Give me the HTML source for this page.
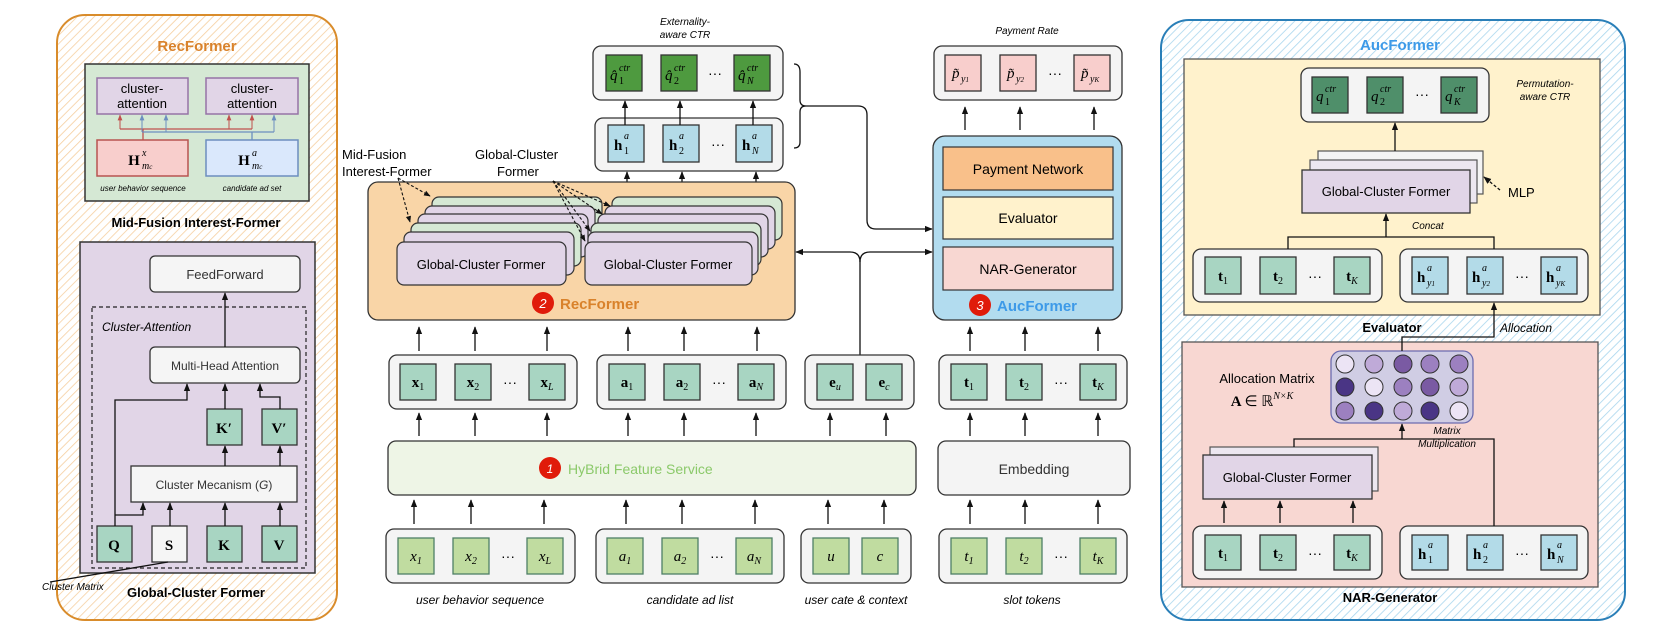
<!DOCTYPE html>
<html><head><meta charset="utf-8"><style>
html,body{margin:0;padding:0;background:#fff}
svg{display:block}
text{font-family:"Liberation Sans",sans-serif}
.m{font-family:"Liberation Serif",serif;font-weight:bold;font-size:15px}
.mi{font-family:"Liberation Serif",serif;font-style:italic;font-size:15px}
.sp{font-family:"Liberation Serif",serif;font-style:italic;font-size:10px}
.sn{font-family:"Liberation Serif",serif;font-size:10px}
.it{font-style:italic}
</style></head><body>
<svg width="1660" height="630" viewBox="0 0 1660 630" xmlns="http://www.w3.org/2000/svg">
<defs>
<marker id="a" viewBox="0 0 10 10" refX="9" refY="5" markerWidth="6" markerHeight="6" orient="auto-start-reverse"><path d="M0,1 L10,5 L0,9 z" fill="#111"/></marker>
<marker id="ar" viewBox="0 0 10 10" refX="9" refY="5" markerWidth="6" markerHeight="6" orient="auto"><path d="M0,1 L10,5 L0,9 z" fill="#c0504d"/></marker>
<marker id="ab" viewBox="0 0 10 10" refX="9" refY="5" markerWidth="6" markerHeight="6" orient="auto"><path d="M0,1 L10,5 L0,9 z" fill="#6c8ebf"/></marker>
<pattern id="ho" width="6" height="6" patternUnits="userSpaceOnUse" patternTransform="rotate(45)"><rect width="6" height="6" fill="#fff"/><line x1="0" y1="0" x2="0" y2="6" stroke="#f6cf9f" stroke-width="1.6"/></pattern>
<pattern id="hb" width="6" height="6" patternUnits="userSpaceOnUse" patternTransform="rotate(45)"><rect width="6" height="6" fill="#fff"/><line x1="0" y1="0" x2="0" y2="6" stroke="#a9d6ee" stroke-width="1.6"/></pattern>
</defs>

<!-- ============ LEFT PANEL ============ -->
<rect x="57" y="15" width="280" height="605" rx="28" fill="url(#ho)" stroke="#d98c2b" stroke-width="2"/>
<text x="197" y="51" text-anchor="middle" font-size="15" font-weight="bold" fill="#d9822b">RecFormer</text>
<rect x="85" y="64" width="224" height="137" fill="#d5e8d4" stroke="#333" stroke-width="1.5"/>
<rect x="97" y="78" width="91" height="36" fill="#e1d5e7" stroke="#9673a6" stroke-width="1.5"/>
<text x="142" y="93" text-anchor="middle" font-size="13">cluster-</text><text x="142" y="108" text-anchor="middle" font-size="13">attention</text>
<rect x="206" y="78" width="92" height="36" fill="#e1d5e7" stroke="#9673a6" stroke-width="1.5"/>
<text x="252" y="93" text-anchor="middle" font-size="13">cluster-</text><text x="252" y="108" text-anchor="middle" font-size="13">attention</text>
<rect x="97" y="140" width="91" height="36" fill="#f8cecc" stroke="#b85450" stroke-width="1.5"/>
<text x="134" y="165" text-anchor="middle" class="m" font-size="18">H</text><text x="142" y="156" class="sp">x</text><text x="142" y="169" class="sp">m<tspan font-size="7">c</tspan></text>
<rect x="206" y="140" width="92" height="36" fill="#dae8fc" stroke="#6c8ebf" stroke-width="1.5"/>
<text x="244" y="165" text-anchor="middle" class="m" font-size="18">H</text><text x="252" y="156" class="sp">a</text><text x="252" y="169" class="sp">m<tspan font-size="7">c</tspan></text>
<path d="M143,140 V129 H252 M120,129 H143" fill="none" stroke="#c0504d" stroke-width="1.3"/>
<path d="M120,129 V115" stroke="#c0504d" marker-end="url(#ar)"/><path d="M229,129 V115" stroke="#c0504d" marker-end="url(#ar)"/><path d="M252,129 V115" stroke="#c0504d" marker-end="url(#ar)"/>
<path d="M252,140 V132 H142 M274,132 H252" fill="none" stroke="#6c8ebf" stroke-width="1.3"/>
<path d="M142,132 V115" stroke="#6c8ebf" marker-end="url(#ab)"/><path d="M166,132 V115" stroke="#6c8ebf" marker-end="url(#ab)"/><path d="M274,132 V115" stroke="#6c8ebf" marker-end="url(#ab)"/>
<text x="143" y="191" text-anchor="middle" font-size="8" class="it">user behavior sequence</text>
<text x="252" y="191" text-anchor="middle" font-size="8" class="it">candidate ad set</text>
<text x="196" y="227" text-anchor="middle" font-size="13" font-weight="bold">Mid-Fusion Interest-Former</text>

<rect x="80" y="242" width="235" height="331" fill="#e1d5e7" stroke="#333" stroke-width="1.5"/>
<rect x="150" y="256" width="150" height="36" rx="5" fill="#f5f5f5" stroke="#333" stroke-width="1.3"/>
<text x="225" y="279" text-anchor="middle" font-size="13" fill="#333">FeedForward</text>
<rect x="92" y="307" width="214" height="261" fill="none" stroke="#222" stroke-width="1.2" stroke-dasharray="4,3"/>
<text x="102" y="331" font-size="12" class="it">Cluster-Attention</text>
<rect x="150" y="347" width="150" height="36" rx="5" fill="#f5f5f5" stroke="#333" stroke-width="1.3"/>
<text x="225" y="370" text-anchor="middle" font-size="12" fill="#333">Multi-Head Attention</text>
<rect x="207" y="409" width="35" height="36" fill="#a8d5c2" stroke="#333" stroke-width="1.3"/><text x="224" y="433" text-anchor="middle" class="m">K′</text>
<rect x="262" y="409" width="35" height="36" fill="#a8d5c2" stroke="#333" stroke-width="1.3"/><text x="279" y="433" text-anchor="middle" class="m">V′</text>
<rect x="131" y="466" width="166" height="36" fill="#f5f5f5" stroke="#333" stroke-width="1.3"/>
<text x="214" y="489" text-anchor="middle" font-size="12" fill="#333">Cluster Mecanism (<tspan class="it">G</tspan>)</text>
<rect x="97" y="526" width="35" height="36" fill="#a8d5c2" stroke="#333" stroke-width="1.3"/><text x="114" y="550" text-anchor="middle" class="m">Q</text>
<rect x="152" y="526" width="35" height="36" fill="#f5f5f5" stroke="#333" stroke-width="1.3"/><text x="169" y="550" text-anchor="middle" class="m">S</text>
<rect x="207" y="526" width="35" height="36" fill="#a8d5c2" stroke="#333" stroke-width="1.3"/><text x="224" y="550" text-anchor="middle" class="m">K</text>
<rect x="262" y="526" width="35" height="36" fill="#a8d5c2" stroke="#333" stroke-width="1.3"/><text x="279" y="550" text-anchor="middle" class="m">V</text>
<g stroke="#111" stroke-width="1.3" fill="none">
<path d="M115,526 V400 H187 V384" marker-end="url(#a)"/>
<path d="M115,515 H143 V503" marker-end="url(#a)"/>
<path d="M170,526 V503" marker-end="url(#a)"/>
<path d="M225,526 V503" marker-end="url(#a)"/>
<path d="M280,526 V503" marker-end="url(#a)"/>
<path d="M225,466 V446" marker-end="url(#a)"/>
<path d="M280,466 V446" marker-end="url(#a)"/>
<path d="M225,409 V384" marker-end="url(#a)"/>
<path d="M280,409 V397 H260 V384" marker-end="url(#a)"/>
<path d="M225,347 V293" marker-end="url(#a)"/>
<path d="M168,562 L50,582"/>
</g>
<text x="42" y="590" font-size="10" class="it">Cluster Matrix</text>
<text x="196" y="597" text-anchor="middle" font-size="13" font-weight="bold">Global-Cluster Former</text>

<!-- ============ CENTER ============ -->
<text x="685" y="25" text-anchor="middle" font-size="10" class="it">Externality-</text>
<text x="685" y="38" text-anchor="middle" font-size="10" class="it">aware CTR</text>
<rect x="593" y="46" width="190" height="54" rx="8" fill="#f4f4f4" stroke="#333" stroke-width="1.3"/>
<g stroke="#333" stroke-width="1.3" fill="#4e9a3f">
<rect x="606" y="55" width="36" height="36"/><rect x="661" y="55" width="36" height="36"/><rect x="734" y="55" width="36" height="36"/></g>
<g>
<text x="610" y="80" class="mi">q̂</text><text x="619" y="71" class="sp">ctr</text><text x="619" y="84" class="sn">1</text>
<text x="665" y="80" class="mi">q̂</text><text x="674" y="71" class="sp">ctr</text><text x="674" y="84" class="sn">2</text>
<text x="738" y="80" class="mi">q̂</text><text x="747" y="71" class="sp">ctr</text><text x="747" y="84" class="sp">N</text>
</g>
<text x="715" y="78" text-anchor="middle" font-size="14">···</text>
<rect x="595" y="118" width="188" height="53" rx="8" fill="#f4f4f4" stroke="#333" stroke-width="1.3"/>
<g stroke="#333" stroke-width="1.3" fill="#b3dbe8">
<rect x="608" y="125" width="36" height="37"/><rect x="663" y="125" width="36" height="37"/><rect x="736" y="125" width="36" height="37"/></g>
<text x="614" y="150" class="m" font-size="17">h</text><text x="624" y="139" class="sp">a</text><text x="624" y="154" class="sn">1</text>
<text x="669" y="150" class="m" font-size="17">h</text><text x="679" y="139" class="sp">a</text><text x="679" y="154" class="sn">2</text>
<text x="742" y="150" class="m" font-size="17">h</text><text x="752" y="139" class="sp">a</text><text x="752" y="154" class="sp">N</text>
<text x="718" y="149" text-anchor="middle" font-size="14">···</text>
<g stroke="#111" stroke-width="1.3" fill="none">
<path d="M625,125 V101" marker-end="url(#a)"/><path d="M680,125 V101" marker-end="url(#a)"/><path d="M753,125 V101" marker-end="url(#a)"/>
<path d="M627,182 V172" marker-end="url(#a)"/><path d="M682,182 V172" marker-end="url(#a)"/><path d="M756,182 V172" marker-end="url(#a)"/>
<path d="M794,64 Q800,64 800,72 V100 Q800,106 806,106 Q800,106 800,112 V142 Q800,148 794,148"/>
<path d="M806,106 H858 Q867,106 867,115 V220 Q867,229 876,229 H932" marker-end="url(#a)"/>
</g>

<!-- orange RecFormer -->
<rect x="368" y="182" width="427" height="138" rx="10" fill="#f9d5a7" stroke="#333" stroke-width="1.3"/>
<text x="342" y="159" font-size="13">Mid-Fusion</text>
<text x="342" y="176" font-size="13">Interest-Former</text>
<text x="475" y="159" font-size="13">Global-Cluster</text>
<text x="497" y="176" font-size="13">Former</text>
<g stroke="#333" stroke-width="1.2">
<rect x="432" y="197" width="170" height="43" rx="7" fill="#d5e8d4"/>
<rect x="425" y="206" width="170" height="43" rx="7" fill="#e1d5e7"/>
<rect x="418" y="214" width="170" height="43" rx="7" fill="#e1d5e7"/>
<rect x="411" y="223" width="170" height="43" rx="7" fill="#d5e8d4"/>
<rect x="404" y="232" width="170" height="43" rx="7" fill="#e1d5e7"/>
<rect x="397" y="242" width="169" height="43" rx="7" fill="#e1d5e7"/>
<rect x="612" y="197" width="170" height="43" rx="7" fill="#d5e8d4"/>
<rect x="605" y="206" width="170" height="43" rx="7" fill="#e1d5e7"/>
<rect x="598" y="214" width="170" height="43" rx="7" fill="#e1d5e7"/>
<rect x="591" y="223" width="170" height="43" rx="7" fill="#d5e8d4"/>
<rect x="588" y="232" width="170" height="43" rx="7" fill="#e1d5e7"/>
<rect x="585" y="242" width="167" height="43" rx="7" fill="#e1d5e7"/>
</g>
<text x="481" y="269" text-anchor="middle" font-size="13">Global-Cluster Former</text>
<text x="668" y="269" text-anchor="middle" font-size="13">Global-Cluster Former</text>
<g stroke="#111" stroke-width="1.1" fill="none" stroke-dasharray="3,2">
<path d="M398,178 L430,196" marker-end="url(#a)"/><path d="M398,178 L410,222" marker-end="url(#a)"/>
<path d="M553,181 L610,206" marker-end="url(#a)"/><path d="M553,181 L602,214" marker-end="url(#a)"/>
<path d="M553,181 L590,231" marker-end="url(#a)"/><path d="M553,181 L585,241" marker-end="url(#a)"/>
</g>
<circle cx="543" cy="303" r="11" fill="#e01b0a"/><text x="543" y="308" text-anchor="middle" font-size="13" fill="#fff" class="it">2</text>
<text x="560" y="309" font-size="15" font-weight="bold" fill="#d9822b">RecFormer</text>

<!-- AucFormer middle -->
<text x="1027" y="34" text-anchor="middle" font-size="10" class="it">Payment Rate</text>
<rect x="934" y="46" width="188" height="54" rx="8" fill="#f4f4f4" stroke="#333" stroke-width="1.3"/>
<g stroke="#333" stroke-width="1.3" fill="#f8cecc">
<rect x="945" y="55" width="36" height="36"/><rect x="1000" y="55" width="36" height="36"/><rect x="1074" y="55" width="36" height="36"/></g>
<text x="952" y="78" class="mi">p̃</text><text x="961" y="82" class="sp">y<tspan font-size="7">1</tspan></text>
<text x="1007" y="78" class="mi">p̃</text><text x="1016" y="82" class="sp">y<tspan font-size="7">2</tspan></text>
<text x="1081" y="78" class="mi">p̃</text><text x="1090" y="82" class="sp">y<tspan font-size="7">K</tspan></text>
<text x="1055" y="78" text-anchor="middle" font-size="14">···</text>
<rect x="933" y="136" width="189" height="184" rx="12" fill="#b2dcef" stroke="#333" stroke-width="1.3"/>
<rect x="943" y="147" width="170" height="43" fill="#f9c08a" stroke="#333" stroke-width="1.2"/>
<text x="1028" y="174" text-anchor="middle" font-size="14">Payment Network</text>
<rect x="943" y="197" width="170" height="42" fill="#fff2cc" stroke="#333" stroke-width="1.2"/>
<text x="1028" y="223" text-anchor="middle" font-size="14">Evaluator</text>
<rect x="943" y="247" width="170" height="43" fill="#f8d7d2" stroke="#333" stroke-width="1.2"/>
<text x="1028" y="274" text-anchor="middle" font-size="14">NAR-Generator</text>
<circle cx="980" cy="305" r="11" fill="#e01b0a"/><text x="980" y="310" text-anchor="middle" font-size="13" fill="#fff" class="it">3</text>
<text x="997" y="311" font-size="15" font-weight="bold" fill="#3d9ae8">AucFormer</text>
<g stroke="#111" stroke-width="1.3" fill="none">
<path d="M965,130 V107" marker-end="url(#a)"/><path d="M1020,130 V107" marker-end="url(#a)"/><path d="M1094,130 V107" marker-end="url(#a)"/>
<path d="M860,355 V262 Q860,252 850,252 H796" marker-end="url(#a)"/>
<path d="M860,262 Q860,252 870,252 H932" marker-end="url(#a)"/>
</g>

<!-- feature rows -->
<g stroke="#333" stroke-width="1.3">
<rect x="389" y="355" width="188" height="54" rx="8" fill="#f4f4f4"/>
<rect x="597" y="355" width="189" height="54" rx="8" fill="#f4f4f4"/>
<rect x="805" y="355" width="109" height="54" rx="8" fill="#f4f4f4"/>
<rect x="939" y="355" width="188" height="54" rx="8" fill="#f4f4f4"/>
<rect x="388" y="441" width="528" height="54" rx="8" fill="#eef5e6"/>
<rect x="938" y="441" width="192" height="54" rx="8" fill="#f4f4f4"/>
<rect x="386" y="529" width="189" height="54" rx="8" fill="#f4f4f4"/>
<rect x="596" y="529" width="188" height="54" rx="8" fill="#f4f4f4"/>
<rect x="801" y="529" width="110" height="54" rx="8" fill="#f4f4f4"/>
<rect x="939" y="529" width="188" height="54" rx="8" fill="#f4f4f4"/>
</g>
<g stroke="#333" stroke-width="1.3" fill="#a8d5c2">
<rect x="400" y="364" width="36" height="36"/><rect x="455" y="364" width="36" height="36"/><rect x="529" y="364" width="36" height="36"/>
<rect x="609" y="364" width="36" height="36"/><rect x="664" y="364" width="36" height="36"/><rect x="738" y="364" width="36" height="36"/>
<rect x="817" y="364" width="36" height="36"/><rect x="866" y="364" width="36" height="36"/>
<rect x="951" y="364" width="36" height="36"/><rect x="1006" y="364" width="36" height="36"/><rect x="1080" y="364" width="36" height="36"/>
</g>
<g stroke="#4f7f66" stroke-width="1.3" fill="#c0dca0">
<rect x="398" y="538" width="36" height="36"/><rect x="453" y="538" width="36" height="36"/><rect x="527" y="538" width="36" height="36"/>
<rect x="607" y="538" width="36" height="36"/><rect x="662" y="538" width="36" height="36"/><rect x="736" y="538" width="36" height="36"/>
<rect x="813" y="538" width="36" height="36"/><rect x="862" y="538" width="36" height="36"/>
<rect x="951" y="538" width="36" height="36"/><rect x="1006" y="538" width="36" height="36"/><rect x="1080" y="538" width="36" height="36"/>
</g>
<g text-anchor="middle">
<text x="418" y="387" class="m">x<tspan font-size="10" font-weight="normal" dy="3">1</tspan></text>
<text x="473" y="387" class="m">x<tspan font-size="10" font-weight="normal" dy="3">2</tspan></text>
<text x="547" y="387" class="m">x<tspan font-size="10" font-weight="normal" font-style="italic" dy="3">L</tspan></text>
<text x="627" y="387" class="m">a<tspan font-size="10" font-weight="normal" dy="3">1</tspan></text>
<text x="682" y="387" class="m">a<tspan font-size="10" font-weight="normal" dy="3">2</tspan></text>
<text x="756" y="387" class="m">a<tspan font-size="10" font-weight="normal" font-style="italic" dy="3">N</tspan></text>
<text x="835" y="387" class="m">e<tspan font-size="10" font-weight="normal" font-style="italic" dy="3">u</tspan></text>
<text x="884" y="387" class="m">e<tspan font-size="10" font-weight="normal" font-style="italic" dy="3">c</tspan></text>
<text x="969" y="387" class="m">t<tspan font-size="10" font-weight="normal" dy="3">1</tspan></text>
<text x="1024" y="387" class="m">t<tspan font-size="10" font-weight="normal" dy="3">2</tspan></text>
<text x="1098" y="387" class="m">t<tspan font-size="10" font-weight="normal" font-style="italic" dy="3">K</tspan></text>
<text x="510" y="387" font-size="14">···</text><text x="719" y="387" font-size="14">···</text><text x="1061" y="387" font-size="14">···</text>
<text x="416" y="561" class="mi">x<tspan font-size="10" dy="3">1</tspan></text>
<text x="471" y="561" class="mi">x<tspan font-size="10" dy="3">2</tspan></text>
<text x="545" y="561" class="mi">x<tspan font-size="10" dy="3">L</tspan></text>
<text x="625" y="561" class="mi">a<tspan font-size="10" dy="3">1</tspan></text>
<text x="680" y="561" class="mi">a<tspan font-size="10" dy="3">2</tspan></text>
<text x="754" y="561" class="mi">a<tspan font-size="10" dy="3">N</tspan></text>
<text x="831" y="561" class="mi">u</text><text x="880" y="561" class="mi">c</text>
<text x="969" y="561" class="mi">t<tspan font-size="10" dy="3">1</tspan></text>
<text x="1024" y="561" class="mi">t<tspan font-size="10" dy="3">2</tspan></text>
<text x="1098" y="561" class="mi">t<tspan font-size="10" dy="3">K</tspan></text>
<text x="508" y="561" font-size="14">···</text><text x="717" y="561" font-size="14">···</text><text x="1061" y="561" font-size="14">···</text>
<text x="480" y="604" font-size="12" class="it">user behavior sequence</text>
<text x="690" y="604" font-size="12" class="it">candidate ad list</text>
<text x="856" y="604" font-size="12" class="it">user cate &amp; context</text>
<text x="1032" y="604" font-size="12" class="it">slot tokens</text>
</g>
<circle cx="550" cy="468" r="11" fill="#e01b0a"/><text x="550" y="473" text-anchor="middle" font-size="12" fill="#fff" class="it">1</text>
<text x="568" y="474" font-size="14" fill="#8bc96a">HyBrid Feature Service</text>
<text x="1034" y="474" text-anchor="middle" font-size="14" fill="#333">Embedding</text>
<g stroke="#111" stroke-width="1.3" fill="none">
<path d="M419,351 V327" marker-end="url(#a)"/><path d="M475,351 V327" marker-end="url(#a)"/><path d="M547,351 V327" marker-end="url(#a)"/>
<path d="M628,351 V327" marker-end="url(#a)"/><path d="M684,351 V327" marker-end="url(#a)"/><path d="M757,351 V327" marker-end="url(#a)"/>
<path d="M970,351 V327" marker-end="url(#a)"/><path d="M1025,351 V327" marker-end="url(#a)"/><path d="M1098,351 V327" marker-end="url(#a)"/>
<path d="M419,436 V413" marker-end="url(#a)"/><path d="M475,436 V413" marker-end="url(#a)"/><path d="M547,436 V413" marker-end="url(#a)"/>
<path d="M628,436 V413" marker-end="url(#a)"/><path d="M684,436 V413" marker-end="url(#a)"/><path d="M756,436 V413" marker-end="url(#a)"/>
<path d="M830,436 V413" marker-end="url(#a)"/><path d="M886,436 V413" marker-end="url(#a)"/>
<path d="M970,436 V413" marker-end="url(#a)"/><path d="M1025,436 V413" marker-end="url(#a)"/><path d="M1098,436 V413" marker-end="url(#a)"/>
<path d="M414,524 V500" marker-end="url(#a)"/><path d="M471,524 V500" marker-end="url(#a)"/><path d="M544,524 V500" marker-end="url(#a)"/>
<path d="M626,524 V500" marker-end="url(#a)"/><path d="M682,524 V500" marker-end="url(#a)"/><path d="M755,524 V500" marker-end="url(#a)"/>
<path d="M828,524 V500" marker-end="url(#a)"/><path d="M884,524 V500" marker-end="url(#a)"/>
<path d="M970,524 V500" marker-end="url(#a)"/><path d="M1025,524 V500" marker-end="url(#a)"/><path d="M1098,524 V500" marker-end="url(#a)"/>
</g>

<!-- ============ RIGHT PANEL ============ -->
<rect x="1161" y="20" width="464" height="600" rx="28" fill="url(#hb)" stroke="#2a7fb8" stroke-width="2"/>
<text x="1400" y="50" text-anchor="middle" font-size="15" font-weight="bold" fill="#3d9ae8">AucFormer</text>
<rect x="1184" y="59" width="416" height="256" fill="#fff2cc" stroke="#555" stroke-width="1.3"/>
<rect x="1301" y="68" width="188" height="54" rx="8" fill="#f4f4f4" stroke="#333" stroke-width="1.3"/>
<g stroke="#333" stroke-width="1.3" fill="#4f8f6a">
<rect x="1312" y="77" width="36" height="36"/><rect x="1367" y="77" width="36" height="36"/><rect x="1441" y="77" width="36" height="36"/></g>
<text x="1316" y="101" class="mi">q</text><text x="1325" y="92" class="sp">ctr</text><text x="1325" y="105" class="sn">1</text>
<text x="1371" y="101" class="mi">q</text><text x="1380" y="92" class="sp">ctr</text><text x="1380" y="105" class="sn">2</text>
<text x="1445" y="101" class="mi">q</text><text x="1454" y="92" class="sp">ctr</text><text x="1454" y="105" class="sp">K</text>
<text x="1422" y="99" text-anchor="middle" font-size="14">···</text>
<text x="1545" y="87" text-anchor="middle" font-size="10" class="it">Permutation-</text>
<text x="1545" y="100" text-anchor="middle" font-size="10" class="it">aware CTR</text>
<rect x="1318" y="151" width="165" height="43" fill="#f4f4f4" stroke="#555" stroke-width="1.2"/>
<rect x="1310" y="160" width="167" height="43" fill="#ece7f0" stroke="#555" stroke-width="1.2"/>
<rect x="1302" y="170" width="168" height="43" fill="#e1d5e7" stroke="#333" stroke-width="1.3"/>
<text x="1386" y="196" text-anchor="middle" font-size="13">Global-Cluster Former</text>
<text x="1508" y="197" font-size="13">MLP</text>
<text x="1412" y="229" font-size="10" class="it">Concat</text>
<rect x="1193" y="249" width="189" height="53" rx="8" fill="#f4f4f4" stroke="#333" stroke-width="1.3"/>
<rect x="1400" y="249" width="188" height="53" rx="8" fill="#f4f4f4" stroke="#333" stroke-width="1.3"/>
<g stroke="#333" stroke-width="1.3" fill="#a8d5c2">
<rect x="1205" y="257" width="36" height="37"/><rect x="1260" y="257" width="36" height="37"/><rect x="1334" y="257" width="36" height="37"/></g>
<g stroke="#333" stroke-width="1.3" fill="#b3dbe8">
<rect x="1412" y="257" width="36" height="37"/><rect x="1467" y="257" width="36" height="37"/><rect x="1541" y="257" width="36" height="37"/></g>
<g text-anchor="middle">
<text x="1223" y="281" class="m">t<tspan font-size="10" font-weight="normal" dy="3">1</tspan></text>
<text x="1278" y="281" class="m">t<tspan font-size="10" font-weight="normal" dy="3">2</tspan></text>
<text x="1352" y="281" class="m">t<tspan font-size="10" font-weight="normal" font-style="italic" dy="3">K</tspan></text>
<text x="1315" y="281" font-size="14">···</text>
<text x="1522" y="281" font-size="14">···</text>
</g>
<text x="1417" y="282" class="m" font-size="17">h</text><text x="1427" y="271" class="sp">a</text><text x="1427" y="286" class="sp">y<tspan font-size="7">1</tspan></text>
<text x="1472" y="282" class="m" font-size="17">h</text><text x="1482" y="271" class="sp">a</text><text x="1482" y="286" class="sp">y<tspan font-size="7">2</tspan></text>
<text x="1546" y="282" class="m" font-size="17">h</text><text x="1556" y="271" class="sp">a</text><text x="1556" y="286" class="sp">y<tspan font-size="7">K</tspan></text>
<text x="1392" y="332" text-anchor="middle" font-size="13" font-weight="bold">Evaluator</text>
<text x="1500" y="332" font-size="12" class="it">Allocation</text>

<rect x="1182" y="342" width="416" height="245" fill="#f8d7d2" stroke="#555" stroke-width="1.3"/>
<rect x="1331" y="351" width="142" height="72" rx="10" fill="#d0cde4" stroke="#6c6cb0" stroke-width="1.3"/>
<g stroke="#333" stroke-width="1">
<circle cx="1345" cy="364" r="9" fill="#ece4f5"/><circle cx="1374" cy="364" r="9" fill="#bfaad8"/><circle cx="1403" cy="364" r="9" fill="#7a5aa3"/><circle cx="1430" cy="364" r="9" fill="#9c80c0"/><circle cx="1459" cy="364" r="9" fill="#9c80c0"/>
<circle cx="1345" cy="387" r="9" fill="#4a3585"/><circle cx="1374" cy="387" r="9" fill="#ece4f5"/><circle cx="1403" cy="387" r="9" fill="#9c80c0"/><circle cx="1430" cy="387" r="9" fill="#7a5aa3"/><circle cx="1459" cy="387" r="9" fill="#bfaad8"/>
<circle cx="1345" cy="411" r="9" fill="#9c80c0"/><circle cx="1374" cy="411" r="9" fill="#4a3585"/><circle cx="1403" cy="411" r="9" fill="#bfaad8"/><circle cx="1430" cy="411" r="9" fill="#4a3585"/><circle cx="1459" cy="411" r="9" fill="#ece4f5"/>
</g>
<text x="1267" y="383" text-anchor="middle" font-size="13">Allocation Matrix</text>
<text x="1262" y="406" text-anchor="middle" class="m">A <tspan font-weight="normal">∈ ℝ</tspan><tspan font-size="10" font-style="italic" font-weight="normal" dy="-7">N×K</tspan></text>
<text x="1447" y="434" text-anchor="middle" font-size="10" class="it">Matrix</text>
<text x="1447" y="447" text-anchor="middle" font-size="10" class="it">Multiplication</text>
<rect x="1210" y="447" width="168" height="44" fill="#ece7f0" stroke="#555" stroke-width="1.2"/>
<rect x="1203" y="455" width="169" height="44" fill="#e1d5e7" stroke="#333" stroke-width="1.3"/>
<text x="1287" y="482" text-anchor="middle" font-size="13">Global-Cluster Former</text>
<rect x="1193" y="526" width="189" height="53" rx="8" fill="#f4f4f4" stroke="#333" stroke-width="1.3"/>
<rect x="1400" y="526" width="188" height="53" rx="8" fill="#f4f4f4" stroke="#333" stroke-width="1.3"/>
<g stroke="#333" stroke-width="1.3" fill="#a8d5c2">
<rect x="1205" y="535" width="36" height="35"/><rect x="1260" y="535" width="36" height="35"/><rect x="1334" y="535" width="36" height="35"/></g>
<g stroke="#333" stroke-width="1.3" fill="#b3dbe8">
<rect x="1412" y="535" width="36" height="35"/><rect x="1467" y="535" width="36" height="35"/><rect x="1541" y="535" width="36" height="35"/></g>
<g text-anchor="middle">
<text x="1223" y="558" class="m">t<tspan font-size="10" font-weight="normal" dy="3">1</tspan></text>
<text x="1278" y="558" class="m">t<tspan font-size="10" font-weight="normal" dy="3">2</tspan></text>
<text x="1352" y="558" class="m">t<tspan font-size="10" font-weight="normal" font-style="italic" dy="3">K</tspan></text>
<text x="1315" y="558" font-size="14">···</text>
<text x="1522" y="558" font-size="14">···</text>
</g>
<text x="1418" y="559" class="m" font-size="17">h</text><text x="1428" y="548" class="sp">a</text><text x="1428" y="563" class="sn">1</text>
<text x="1473" y="559" class="m" font-size="17">h</text><text x="1483" y="548" class="sp">a</text><text x="1483" y="563" class="sn">2</text>
<text x="1547" y="559" class="m" font-size="17">h</text><text x="1557" y="548" class="sp">a</text><text x="1557" y="563" class="sp">N</text>
<text x="1390" y="602" text-anchor="middle" font-size="13" font-weight="bold">NAR-Generator</text>
<g stroke="#111" stroke-width="1.3" fill="none">
<path d="M1395,151 V123" marker-end="url(#a)"/>
<path d="M1288,249 V237 H1494 V249"/>
<path d="M1386,237 V214" marker-end="url(#a)"/>
<path d="M1500,190 L1484,177" stroke-dasharray="3,2" marker-end="url(#a)"/>
<path d="M1402,351 V337 H1494 V303" marker-end="url(#a)"/>
<path d="M1294,447 V439 H1494 V526"/>
<path d="M1402,439 V424" marker-end="url(#a)"/>
<path d="M1224,523 V501" marker-end="url(#a)"/><path d="M1280,523 V501" marker-end="url(#a)"/><path d="M1353,523 V501" marker-end="url(#a)"/>
</g>
</svg>
</body></html>
